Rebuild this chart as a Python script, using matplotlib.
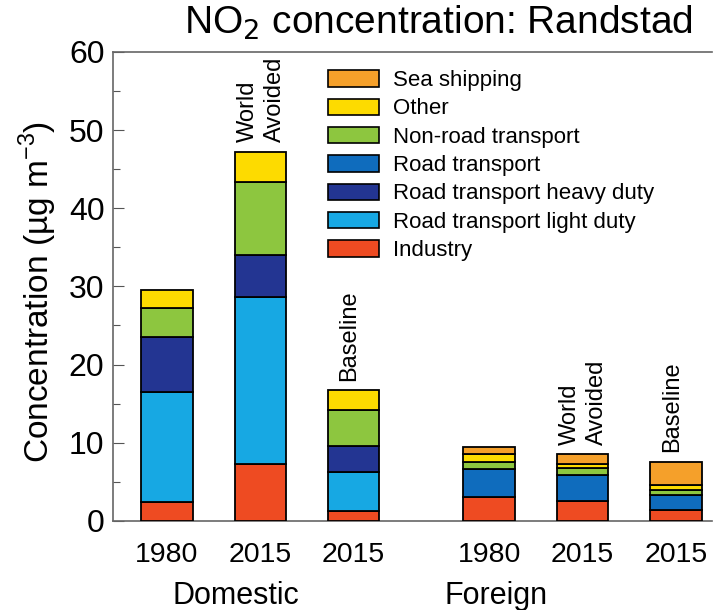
import numpy as np
import matplotlib
matplotlib.use("Agg")
import matplotlib.pyplot as plt
from matplotlib.patches import Patch

plt.rcParams['font.family'] = ['Liberation Sans', 'DejaVu Sans']

# ------------------------- data --------------------------------------
years = ["1980", "2015", "2015", "1980", "2015", "2015"]
scenario = ["", "World\nAvoided", "Baseline", "", "World\nAvoided", "Baseline"]
groups = ["Domestic", "Foreign"]

# contributions (ug/m3), domestic bars first, then foreign
industry      = [2.4, 7.3, 1.3, 3.0, 2.6, 1.4]
light_duty    = [14.1, 21.4, 5.0, 0.0, 0.0, 0.0]
heavy_duty    = [7.0, 5.3, 3.3, 0.0, 0.0, 0.0]
road          = [0.0, 0.0, 0.0, 3.6, 3.3, 1.9]
non_road      = [3.8, 9.3, 4.6, 1.0, 0.9, 0.6]
other         = [2.2, 3.9, 2.5, 0.9, 0.5, 0.7]
sea_shipping  = [0.0, 0.0, 0.0, 1.0, 1.2, 3.0]

sources = ["Industry", "Road transport light duty", "Road transport heavy duty",
           "Road transport", "Non-road transport", "Other", "Sea shipping"]
series = [industry, light_duty, heavy_duty, road, non_road, other, sea_shipping]
colors = ["#EE4B22", "#17A8E3", "#233592", "#0F6CBD", "#8DC63F", "#FDDB00", "#F5A02A"]

# ------------------------- layout ------------------------------------
x = np.array([0, 1, 2, 3.45, 4.45, 5.45])
width = 0.55

fig = plt.figure(figsize=(7.18, 6.10), dpi=100)
ax = fig.add_axes([0.157, 0.146, 0.835, 0.769])

bottom = np.zeros(len(x))
for vals, col in zip(series, colors):
    vals = np.asarray(vals, dtype=float)
    keep = vals > 0
    ax.bar(x[keep], vals[keep], width, bottom=bottom[keep], color=col,
           edgecolor="black", linewidth=1.3, zorder=3)
    bottom += vals

# scenario notes above the 2015 bars
for xi, top, note in zip(x, bottom, scenario):
    if note:
        dx = 1 if "\n" in note else -3
        ax.annotate(note, (xi, top), xytext=(dx, 7), textcoords="offset points",
                    rotation=90, ha="center", va="bottom", multialignment="left",
                    fontsize=17, linespacing=1.3)

ax.set_xlim(-0.58, 5.84)
ax.set_ylim(0, 60)
ax.set_yticks(np.arange(0, 61, 10))
ax.set_yticks(np.arange(5, 60, 10), minor=True)
ax.tick_params(axis="y", which="major", direction="in", length=8, width=0.8,
               labelsize=23, pad=6, color="#555555")
ax.tick_params(axis="y", which="minor", direction="in", length=5, width=0.8,
               color="#555555")
ax.set_xticks(x)
ax.set_xticklabels(years)
ax.tick_params(axis="x", length=0, labelsize=20.5, pad=15)

for side in ["left", "bottom", "top"]:
    ax.spines[side].set_color("#666666")
    ax.spines[side].set_linewidth(1.2)
ax.spines["right"].set_visible(False)

ax.set_ylabel("Concentration (\u00b5g m$^{\\mathregular{-3}}$)", fontsize=24)
ax.yaxis.set_label_coords(-0.09, 0.488)
fig.text(0.61, 0.962, "NO$_2$ concentration: Randstad", ha="center", va="center",
         fontsize=28)

# group labels under the year ticks
ax.text(0.74, -0.16, groups[0], transform=ax.get_xaxis_transform(),
        ha="center", va="center", fontsize=22)
ax.text(3.53, -0.16, groups[1], transform=ax.get_xaxis_transform(),
        ha="center", va="center", fontsize=22)

handles = [Patch(facecolor=c, edgecolor="black", linewidth=1.2, label=s)
           for s, c in zip(sources, colors)][::-1]
ax.legend(handles=handles, loc="upper left", bbox_to_anchor=(0.457, 0.885),
          bbox_transform=fig.transFigure, frameon=False, fontsize=16,
          handlelength=2.3, handleheight=0.75, labelspacing=0.33,
          handletextpad=0.6, borderaxespad=0, borderpad=0)

fig.savefig("out.png", dpi=100)
